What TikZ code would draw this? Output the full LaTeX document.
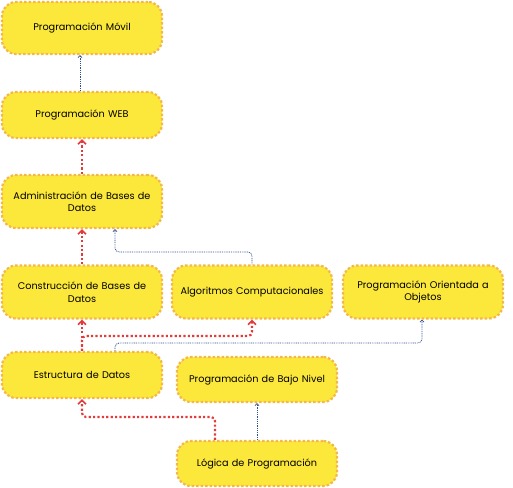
\documentclass[tikz,border=0pt]{standalone}
\usepackage{fontspec}
\setmainfont{Poppins}
\usetikzlibrary{arrows.meta}
\definecolor{boxfill}{HTML}{FCE83A}
\definecolor{boxline}{HTML}{F3B84C}
\definecolor{redlink}{HTML}{E23B3B}
\definecolor{bluelink}{HTML}{2F4F8F}
\tikzset{
  topic/.style={draw=boxline, fill=boxfill, line width=2.2pt, dash pattern=on 2.5pt off 2pt,
    rounded corners=14pt, minimum width=160pt, align=center, text width=150pt,
    font=\fontsize{9.7pt}{12.5pt}\selectfont, inner sep=0pt},
  mainlink/.style={draw=redlink, line width=2.2pt, dash pattern=on 2.2pt off 2.2pt,
    rounded corners=4pt, -{Straight Barb[length=4pt,width=8pt,line width=1.6pt]}},
  sidelink/.style={draw=bluelink, line width=0.8pt, dash pattern=on 0.9pt off 0.9pt,
    rounded corners=4pt, -{Straight Barb[length=2pt,width=4pt,line width=0.8pt]}}
}
\begin{document}
\begin{tikzpicture}[x=1pt,y=-1pt]
\useasboundingbox (0,0) rectangle (513,487);
\node[topic, minimum height=52pt] (movil) at (82,28) {Programación Móvil};
\node[topic, minimum height=46pt] (web) at (82,115) {Programación WEB};
\node[topic, minimum height=53pt] (admin) at (82,201.5) {Administración de Bases de\\Datos};
\node[topic, minimum height=53pt] (constr) at (82,292) {Construcción de Bases de\\Datos};
\node[topic, minimum height=53pt] (algo) at (252,292) {Algoritmos Computacionales};
\node[topic, minimum height=53pt] (poo) at (423,292) {Programación Orientada a\\Objetos};
\node[topic, minimum height=46pt] (estr) at (82,375) {Estructura de Datos};
\node[topic, minimum height=45pt] (bajo) at (257,379.5) {Programación de Bajo Nivel};
\node[topic, minimum height=45pt] (logica) at (257,463.5) {Lógica de Programación};

\coordinate (c1) at (115,252);
\draw[sidelink] (web.north -| 80,0) -- (movil.south -| 80,0);
\draw[mainlink] (admin.north) -- (web.south);
\draw[mainlink] (constr.north) -- (admin.south);
\draw[sidelink] (algo.north) |- (c1) -- (admin.south -| c1);
\draw[mainlink] (estr.north) -- (constr.south);
\draw[mainlink] (estr.north) |- (168,336) -| (algo.south);
\draw[sidelink] (estr.north -| 115,0) |- (300,343) -| (poo.south -| 422,0);
\draw[mainlink] (logica.north -| 215,0) |- (150,417) -| (estr.south);
\draw[sidelink] (logica.north) -- (bajo.south);
\end{tikzpicture}
\end{document}
